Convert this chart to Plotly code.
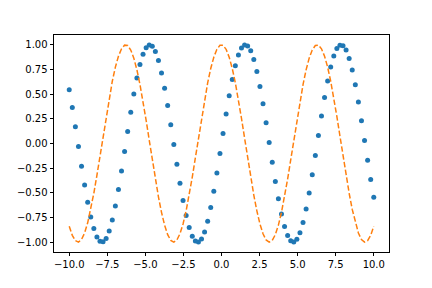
import plotly.graph_objects as go

x_vals = [
    -10.000, -9.798, -9.596, -9.394, -9.192, -8.990, -8.788, -8.586, -8.384, -8.182,
    -7.980, -7.778, -7.576, -7.374, -7.172, -6.970, -6.768, -6.566, -6.364, -6.162,
    -5.960, -5.758, -5.556, -5.354, -5.152, -4.949, -4.747, -4.545, -4.343, -4.141,
    -3.939, -3.737, -3.535, -3.333, -3.131, -2.929, -2.727, -2.525, -2.323, -2.121,
    -1.919, -1.717, -1.515, -1.313, -1.111, -0.909, -0.707, -0.505, -0.303, -0.101,
    0.101, 0.303, 0.505, 0.707, 0.909, 1.111, 1.313, 1.515, 1.717, 1.919,
    2.121, 2.323, 2.525, 2.727, 2.929, 3.131, 3.333, 3.535, 3.737, 3.939,
    4.141, 4.343, 4.545, 4.747, 4.949, 5.152, 5.354, 5.556, 5.758, 5.960,
    6.162, 6.364, 6.566, 6.768, 6.970, 7.172, 7.374, 7.576, 7.778, 7.980,
    8.182, 8.384, 8.586, 8.788, 8.990, 9.192, 9.394, 9.596, 9.798, 10.000,
]

dots_y = [
    0.544, 0.365, 0.170, -0.031, -0.231, -0.421, -0.595, -0.744, -0.863, -0.947,
    -0.992, -0.997, -0.962, -0.887, -0.776, -0.634, -0.466, -0.279, -0.080, 0.121,
    0.318, 0.502, 0.665, 0.801, 0.905, 0.972, 0.999, 0.986, 0.933, 0.841,
    0.716, 0.561, 0.384, 0.191, -0.010, -0.211, -0.403, -0.578, -0.730, -0.852,
    -0.940, -0.989, -0.999, -0.967, -0.896, -0.789, -0.650, -0.484, -0.298, -0.101,
    0.101, 0.298, 0.484, 0.650, 0.789, 0.896, 0.967, 0.999, 0.989, 0.940,
    0.852, 0.730, 0.578, 0.403, 0.211, 0.010, -0.191, -0.384, -0.561, -0.716,
    -0.841, -0.933, -0.986, -0.999, -0.972, -0.905, -0.801, -0.665, -0.502, -0.318,
    -0.121, 0.080, 0.279, 0.466, 0.634, 0.776, 0.887, 0.962, 0.997, 0.992,
    0.947, 0.863, 0.744, 0.595, 0.421, 0.231, 0.031, -0.170, -0.365, -0.544,
]

line_y = [
    -0.839, -0.931, -0.985, -1.000, -0.973, -0.907, -0.804, -0.668, -0.505, -0.322,
    -0.126, 0.076, 0.275, 0.462, 0.631, 0.774, 0.885, 0.960, 0.997, 0.993,
    0.948, 0.865, 0.747, 0.598, 0.425, 0.235, 0.035, -0.166, -0.361, -0.541,
    -0.698, -0.828, -0.924, -0.982, -1.000, -0.978, -0.915, -0.816, -0.683, -0.523,
    -0.341, -0.146, 0.056, 0.255, 0.444, 0.615, 0.760, 0.875, 0.955, 0.995,
    0.995, 0.955, 0.875, 0.760, 0.615, 0.444, 0.255, 0.056, -0.146, -0.341,
    -0.523, -0.683, -0.816, -0.915, -0.978, -1.000, -0.982, -0.924, -0.828, -0.698,
    -0.541, -0.361, -0.166, 0.035, 0.235, 0.425, 0.598, 0.747, 0.865, 0.948,
    0.993, 0.997, 0.960, 0.885, 0.774, 0.631, 0.462, 0.275, 0.076, -0.126,
    -0.322, -0.505, -0.668, -0.804, -0.907, -0.973, -1.000, -0.985, -0.931, -0.839,
]

x_ticks = [-10.0, -7.5, -5.0, -2.5, 0.0, 2.5, 5.0, 7.5, 10.0]
y_ticks = [-1.00, -0.75, -0.50, -0.25, 0.00, 0.25, 0.50, 0.75, 1.00]

fig = go.Figure()
fig.add_trace(go.Scatter(
    x=x_vals, y=dots_y, mode="markers",
    marker=dict(color="#1f77b4", size=5, line=dict(width=0)),
    showlegend=False,
))
fig.add_trace(go.Scatter(
    x=x_vals, y=line_y, mode="lines",
    line=dict(color="#ff7f0e", width=1.5, dash="5.5px,2.4px"),
    showlegend=False,
))

axis_common = dict(
    showgrid=False, zeroline=False, showline=True, linecolor="black", linewidth=0.8,
    mirror=True, ticks="outside", ticklen=3.5, tickwidth=0.8, tickcolor="black",
    tickfont=dict(family="DejaVu Sans", size=10, color="black"),
)

fig.update_layout(
    width=432, height=288,
    margin=dict(l=54, r=43, t=35, b=36),
    paper_bgcolor="white", plot_bgcolor="white",
    xaxis=dict(range=[-11, 11], tickvals=x_ticks,
               ticktext=[f"{v:.1f}".replace("-", "\u2212") for v in x_ticks], **axis_common),
    yaxis=dict(range=[-1.1, 1.1], tickvals=y_ticks,
               ticktext=[f"{v:.2f}".replace("-", "\u2212") for v in y_ticks], **axis_common),
)

fig.write_html("out.html")
